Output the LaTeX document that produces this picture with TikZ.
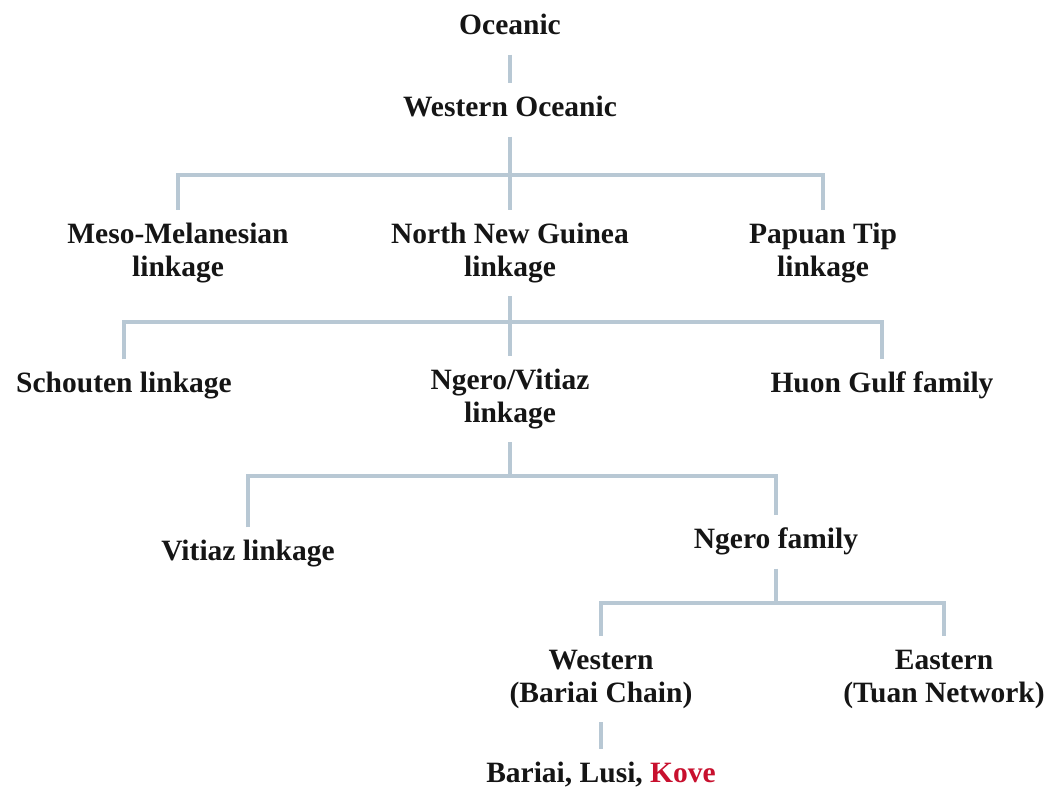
\documentclass[tikz,border=0pt]{standalone}
\usepackage{fontspec}
\setmainfont{Liberation Serif}
\definecolor{linec}{HTML}{B8C8D4}
\definecolor{txt}{HTML}{151515}
\definecolor{kove}{HTML}{C8102E}
\begin{document}
\begin{tikzpicture}[x=1pt,y=-1pt,
  lbl/.style={font=\fontsize{29.5}{33}\selectfont\bfseries, text=txt, align=center, inner xsep=0pt, inner ysep=10pt},
  conn/.style={draw=linec, line width=3.3pt}]
\useasboundingbox (0,0) rectangle (1050,789);
\newcommand{\Sx}{\strut}
% nodes
\node[lbl] (oc)  at (510,28)  {\Sx Oceanic};
\node[lbl] (wo)  at (510,110) {\Sx Western Oceanic};
\node[lbl] (mm)  at (178,253) {\Sx Meso-Melanesian\\linkage\Sx};
\node[lbl] (nng) at (510,253) {\Sx North New Guinea\\linkage\Sx};
\node[lbl] (pt)  at (823,253) {\Sx Papuan Tip\\linkage\Sx};
\node[lbl] (sch) at (124,386) {\Sx Schouten linkage};
\node[lbl] (nv)  at (510,399) {\Sx Ngero/Vitiaz\\linkage\Sx};
\node[lbl] (hg)  at (882,386) {\Sx Huon Gulf family};
\node[lbl] (vl)  at (248,554) {\Sx Vitiaz linkage};
\node[lbl] (nf)  at (776,542) {\Sx Ngero family};
\node[lbl] (we)  at (601,679) {\Sx Western\\(Bariai Chain)\Sx};
\node[lbl] (ea)  at (944,679) {\Sx Eastern\\(Tuan Network)\Sx};
\node[lbl] (bl)  at (601,776) {\Sx Bariai, Lusi, \textcolor{kove}{Kove}};
% bar junctions
\coordinate (b1) at (510,175);
\coordinate (b2) at (510,322);
\coordinate (b3) at (510,476);
\coordinate (b4) at (776,603);
% connectors
\draw[conn] (oc.south) -- (wo.north);
\draw[conn] (wo.south) -- (b1);
\draw[conn] (mm.north) |- (b1) -| (pt.north);
\draw[conn] (b1) -- (nng.north);
\draw[conn] (nng.south) -- (b2);
\draw[conn] (sch.north) |- (b2) -| (hg.north);
\draw[conn] (b2) -- (nv.north);
\draw[conn] (nv.south) -- (b3);
\draw[conn] (vl.north) |- (b3) -| (nf.north);
\draw[conn] (nf.south) -- (b4);
\draw[conn] (we.north) |- (b4) -| (ea.north);
\draw[conn] (we.south) -- (bl.north);
\end{tikzpicture}
\end{document}
